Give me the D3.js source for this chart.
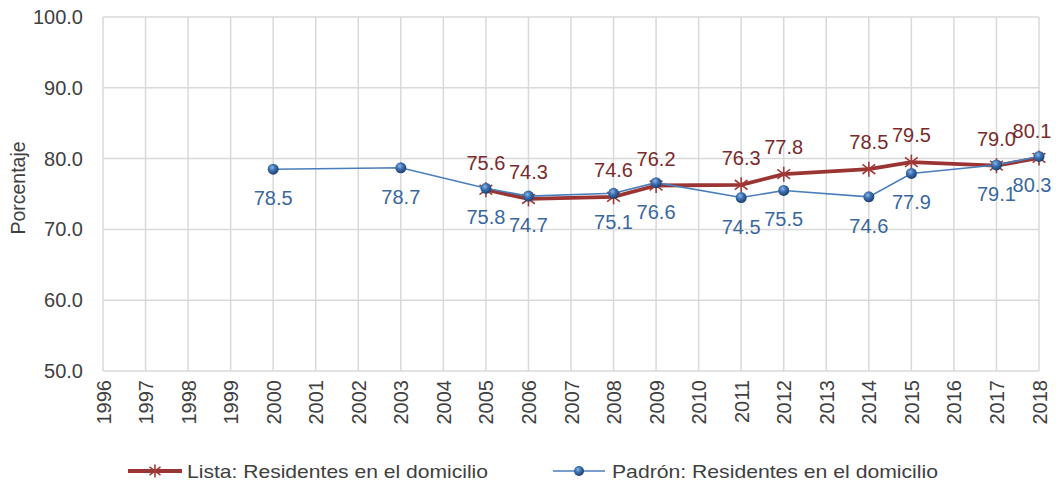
<!DOCTYPE html>
<html>
<head>
<meta charset="utf-8">
<script src="https://cdn.jsdelivr.net/npm/d3@7/dist/d3.min.js"></script>
<style>
  html, body { margin: 0; padding: 0; background: #ffffff; }
  svg { display: block; font-family: "Liberation Sans", Arial, sans-serif; }
</style>
</head>
<body>
<svg id="chart" width="1058" height="484"></svg>
<script>
// ---- data ----
const years = ["1996","1997","1998","1999","2000","2001","2002","2003","2004","2005","2006","2007","2008","2009","2010","2011","2012","2013","2014","2015","2016","2017","2018"];
const yTicks = [50, 60, 70, 80, 90, 100];
const listaYears = ["2005","2006","2008","2009","2011","2012","2014","2015","2017","2018"];
const listaValues = [75.6, 74.3, 74.6, 76.2, 76.3, 77.8, 78.5, 79.5, 79.0, 80.1];
const padronYears = ["2000","2003","2005","2006","2008","2009","2011","2012","2014","2015","2017","2018"];
const padronValues = [78.5, 78.7, 75.8, 74.7, 75.1, 76.6, 74.5, 75.5, 74.6, 77.9, 79.1, 80.3];
const seriesNames = ["Lista: Residentes en el domicilio", "Padrón: Residentes en el domicilio"];
const yTitle = "Porcentaje";

const lista = listaYears.map((y, i) => ({ year: y, value: listaValues[i] }));
const padron = padronYears.map((y, i) => ({ year: y, value: padronValues[i] }));

// ---- layout ----
const svg = d3.select("#chart");
const L = 103, R = 1039, T = 17, B = 371;
const x = d3.scalePoint().domain(years).range([L, R]);
const y = d3.scaleLinear().domain([50, 100]).range([B, T]);

const gridColor = "#d9d9d9";
const axisText = "#404040";
const redLine = "#9b3534";
const redLabel = "#7a2a2a";
const blueLine = "#4a7ebb";
const blueLabel = "#3a67a0";

// gradient for Padrón markers
const defs = svg.append("defs");
const grad = defs.append("radialGradient").attr("id", "dotGrad")
  .attr("cx", "40%").attr("cy", "35%").attr("r", "65%");
grad.append("stop").attr("offset", "0%").attr("stop-color", "#8fb6e6");
grad.append("stop").attr("offset", "45%").attr("stop-color", "#3d70b0");
grad.append("stop").attr("offset", "100%").attr("stop-color", "#1c3f6e");

// ---- gridlines ----
const grid = svg.append("g");
grid.selectAll("line.h").data(yTicks).join("line")
  .attr("x1", L).attr("x2", R)
  .attr("y1", d => y(d)).attr("y2", d => y(d))
  .attr("stroke", gridColor).attr("stroke-width", 1.5);
grid.selectAll("line.v").data(years).join("line")
  .attr("x1", d => x(d)).attr("x2", d => x(d))
  .attr("y1", T).attr("y2", B)
  .attr("stroke", gridColor).attr("stroke-width", 1.5);

// ---- axes ----
const yAxis = d3.axisLeft(y).tickValues(yTicks).tickSize(0).tickPadding(20)
  .tickFormat(d3.format(".1f"));
const gy = svg.append("g").attr("transform", `translate(${L},0)`).call(yAxis);
gy.select(".domain").remove();
gy.selectAll("text").attr("font-size", "20px").attr("fill", axisText)
  .attr("font-family", "Liberation Sans, Arial, sans-serif");

const xAxis = d3.axisBottom(x).tickSize(0).tickPadding(0);
const gx = svg.append("g").attr("transform", `translate(0,${B})`).call(xAxis);
gx.select(".domain").remove();
gx.selectAll("text")
  .attr("font-size", "20px").attr("fill", axisText)
  .attr("font-family", "Liberation Sans, Arial, sans-serif")
  .attr("text-anchor", "end")
  .attr("transform", "rotate(-90)")
  .attr("x", -9).attr("y", 0).attr("dy", "0.35em");

// y title
svg.append("text")
  .attr("transform", `translate(25,${(T + B) / 2 - 6}) rotate(-90)`)
  .attr("text-anchor", "middle")
  .attr("font-size", "19.5px").attr("fill", axisText)
  .text(yTitle);

// ---- lines ----
const lineGen = d3.line().x(d => x(d.year)).y(d => y(d.value));

// Lista
svg.append("path").datum(lista).attr("d", lineGen)
  .attr("fill", "none").attr("stroke", redLine).attr("stroke-width", 3.8)
  .attr("stroke-linejoin", "round");

function star(g, cx, cy, s, color) {
  const a = s * 0.85;
  g.append("line").attr("x1", cx).attr("x2", cx).attr("y1", cy - s).attr("y2", cy + s)
    .attr("stroke", color).attr("stroke-width", 1.6);
  g.append("line").attr("x1", cx - a).attr("x2", cx + a).attr("y1", cy - a * 0.75).attr("y2", cy + a * 0.75)
    .attr("stroke", color).attr("stroke-width", 1.6);
  g.append("line").attr("x1", cx - a).attr("x2", cx + a).attr("y1", cy + a * 0.75).attr("y2", cy - a * 0.75)
    .attr("stroke", color).attr("stroke-width", 1.6);
}
const lm = svg.append("g");
lista.forEach(d => star(lm, x(d.year), y(d.value), 7.5, "#a23a38"));

// Padrón
svg.append("path").datum(padron).attr("d", lineGen)
  .attr("fill", "none").attr("stroke", blueLine).attr("stroke-width", 1.6);
svg.append("g").selectAll("circle").data(padron).join("circle")
  .attr("cx", d => x(d.year)).attr("cy", d => y(d.value)).attr("r", 5.5)
  .attr("fill", "url(#dotGrad)");

// ---- data labels ----
function clampX(px) { return Math.min(px, 1032); }
svg.append("g").selectAll("text").data(lista).join("text")
  .attr("x", d => clampX(x(d.year))).attr("y", d => y(d.value) - 20)
  .attr("text-anchor", "middle").attr("font-size", "20px").attr("fill", redLabel)
  .text(d => d3.format(".1f")(d.value));
svg.append("g").selectAll("text").data(padron).join("text")
  .attr("x", d => clampX(x(d.year))).attr("y", d => y(d.value) + 36)
  .attr("text-anchor", "middle").attr("font-size", "20px").attr("fill", blueLabel)
  .text(d => d3.format(".1f")(d.value));

// ---- legend ----
const leg = svg.append("g");
const ly = 471;
leg.append("line").attr("x1", 128).attr("x2", 182).attr("y1", ly).attr("y2", ly)
  .attr("stroke", redLine).attr("stroke-width", 3.8);
star(leg, 155, ly, 6.5, "#a23a38");
leg.append("text").attr("x", 187).attr("y", 478).attr("font-size", "18.5px").attr("fill", axisText)
  .attr("textLength", 301).attr("lengthAdjust", "spacingAndGlyphs")
  .text(seriesNames[0]);
leg.append("line").attr("x1", 553).attr("x2", 605).attr("y1", ly).attr("y2", ly)
  .attr("stroke", blueLine).attr("stroke-width", 1.6);
leg.append("circle").attr("cx", 579).attr("cy", ly).attr("r", 5).attr("fill", "url(#dotGrad)");
leg.append("text").attr("x", 612).attr("y", 478).attr("font-size", "18.5px").attr("fill", axisText)
  .attr("textLength", 326).attr("lengthAdjust", "spacingAndGlyphs")
  .text(seriesNames[1]);
</script>
</body>
</html>
